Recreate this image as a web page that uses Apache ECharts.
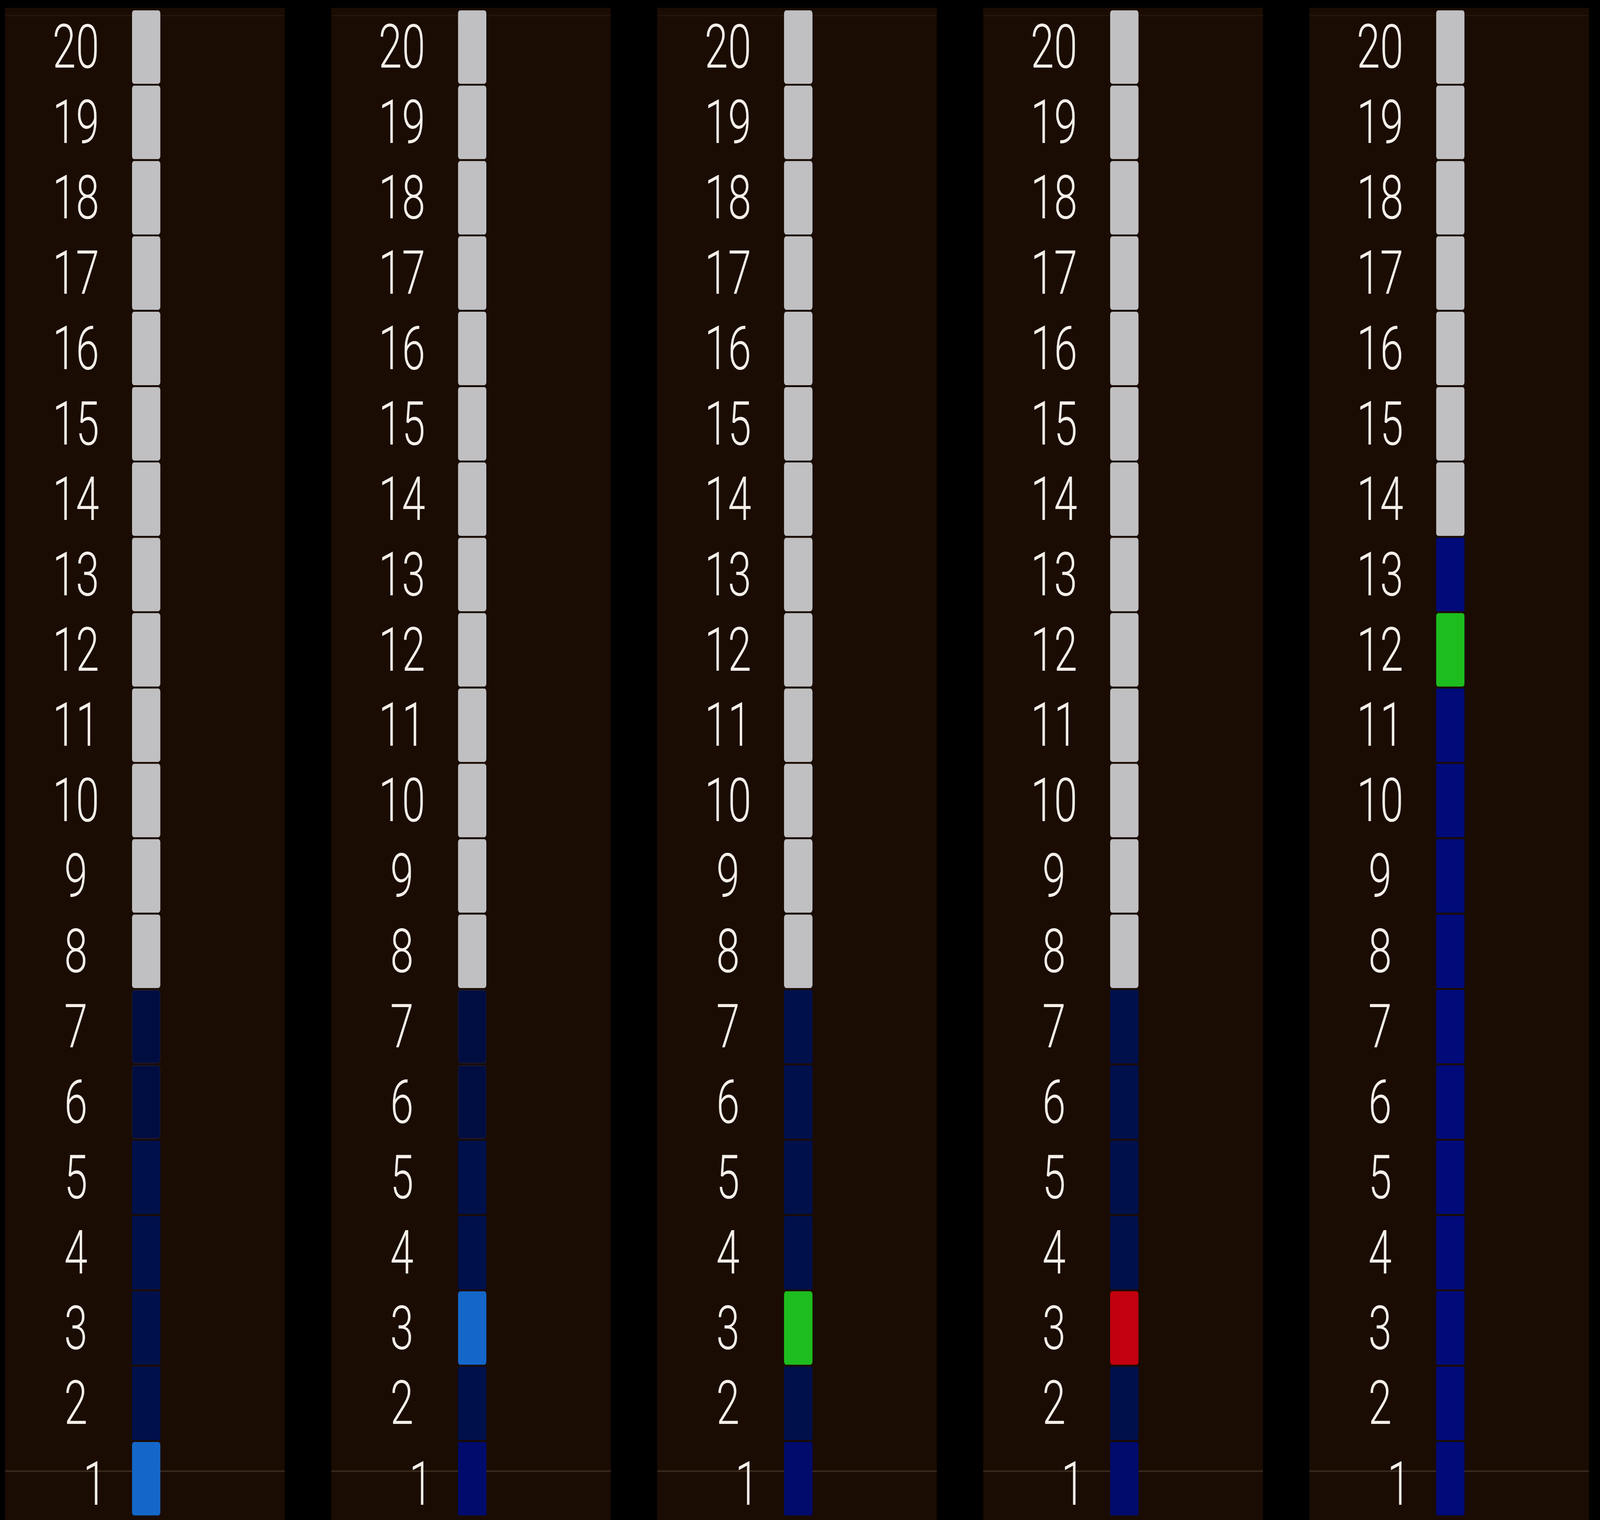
<!DOCTYPE html>
<html>
<head>
<meta charset="utf-8">
<script src="https://cdn.jsdelivr.net/npm/echarts@6/dist/echarts.min.js"></script>
<style>
html,body{margin:0;padding:0;background:#000;overflow:hidden;}
#c{width:5928px;height:3891px;transform-origin:0 0;}
</style>
</head>
<body>
<div id="c"></div>
<script>
// Floor categories (bottom to top)
const floors = ['1','2','3','4','5','6','7','8','9','10','11','12','13','14','15','16','17','18','19','20'];
// Cell state per floor: 0 = idle (grey), 1 = travelled (navy), 2 = base (deep blue), 3 = current, 4 = dim travelled
const panel1 = [3,1,1,1,1,4,4,0,0,0,0,0,0,0,0,0,0,0,0,0];
const panel2 = [2,1,3,1,1,4,4,0,0,0,0,0,0,0,0,0,0,0,0,0];
const panel3 = [2,1,3,1,1,1,1,0,0,0,0,0,0,0,0,0,0,0,0,0];
const panel4 = [2,1,3,1,1,1,1,0,0,0,0,0,0,0,0,0,0,0,0,0];
const panel5 = [1,1,1,1,1,1,1,1,1,1,1,3,1,0,0,0,0,0,0,0];
const panels = [panel1, panel2, panel3, panel4, panel5];
const highlightColors = ['#1467c9','#1467c9','#1dbd1f','#c2000f','#1dbd1f'];
const navyColors = ['#00104b','#00104b','#00104b','#00104b','#000a78'];

const W = 5928, H = 3891;
const el = document.getElementById('c');
const vw = window.innerWidth || W, vh = window.innerHeight || H;
el.style.transform = 'scale(' + (vw / W) + ',' + (vh / H) + ')';

const panelLeft0 = 19, panelPitch = 1208, panelW = 1036, panelTop = 20;
const barRel = 470, barW = 105;
const gridTop = 24, gridH = 3872;

function cellStyle(state, p) {
  switch (state) {
    case 0: return {color:'#c0c0c2', borderRadius:8};
    case 1: return {color:navyColors[p], borderColor:navyColors[p], borderWidth:4, borderRadius:2};
    case 2: return {color: p === 4 ? navyColors[p] : '#000b6c', borderColor: p === 4 ? navyColors[p] : '#000b6c', borderWidth:4, borderRadius:2};
    case 3: return {color:highlightColors[p], borderRadius:8};
    case 4: return {color:'#000d40', borderColor:'#1a1d3a', borderWidth:2, borderRadius:8};
  }
}

const font = 'Roboto, "Open Sans", sans-serif';
const grids = [], xAxes = [], yAxes = [], series = [], graphics = [];
panels.forEach((states, p) => {
  const pl = panelLeft0 + p * panelPitch;
  graphics.push({type:'rect', z:-10, shape:{x:pl, y:panelTop, width:panelW, height:H - panelTop}, style:{fill:'#1a0c03'}});
  graphics.push({type:'line', z:-5, shape:{x1:pl, y1:40, x2:pl + panelW, y2:40}, style:{stroke:'#26170b', lineWidth:3}});
  graphics.push({type:'line', z:-5, shape:{x1:pl, y1:3766, x2:pl + panelW, y2:3766}, style:{stroke:'#3a2a1d', lineWidth:4}});
  grids.push({left:pl + barRel, top:gridTop, width:barW, height:gridH, containLabel:false});
  xAxes.push({gridIndex:p, type:'value', min:0, max:1, show:false});
  yAxes.push({
    gridIndex:p, type:'category', data:floors,
    axisLine:{show:false}, axisTick:{show:false}, splitLine:{show:false},
    axisLabel:{
      show:true, interval:0, hideOverlap:false, margin:208, align:'center', verticalAlign:'middle',
      color:'#f4efe9', fontFamily:font, fontWeight:300, fontSize:156, lineHeight:160,
      padding:[28,0,0,0],
      formatter: v => v === '1' ? '{one|1}' : v,
      rich:{one:{color:'#f4efe9', fontFamily:font, fontWeight:300, fontSize:156, lineHeight:160, padding:[28,0,0,140]}}
    }
  });
  series.push({
    type:'bar', xAxisIndex:p, yAxisIndex:p, barWidth:188, silent:true,
    data: states.map(s2 => ({value:1, itemStyle:cellStyle(s2, p)})),
    animation:false
  });
});

const chart = echarts.init(el, null, {width:W, height:H});
chart.setOption({
  backgroundColor:'#000000',
  animation:false,
  graphic: graphics,
  grid: grids,
  xAxis: xAxes,
  yAxis: yAxes,
  series: series
});
</script>
</body>
</html>
